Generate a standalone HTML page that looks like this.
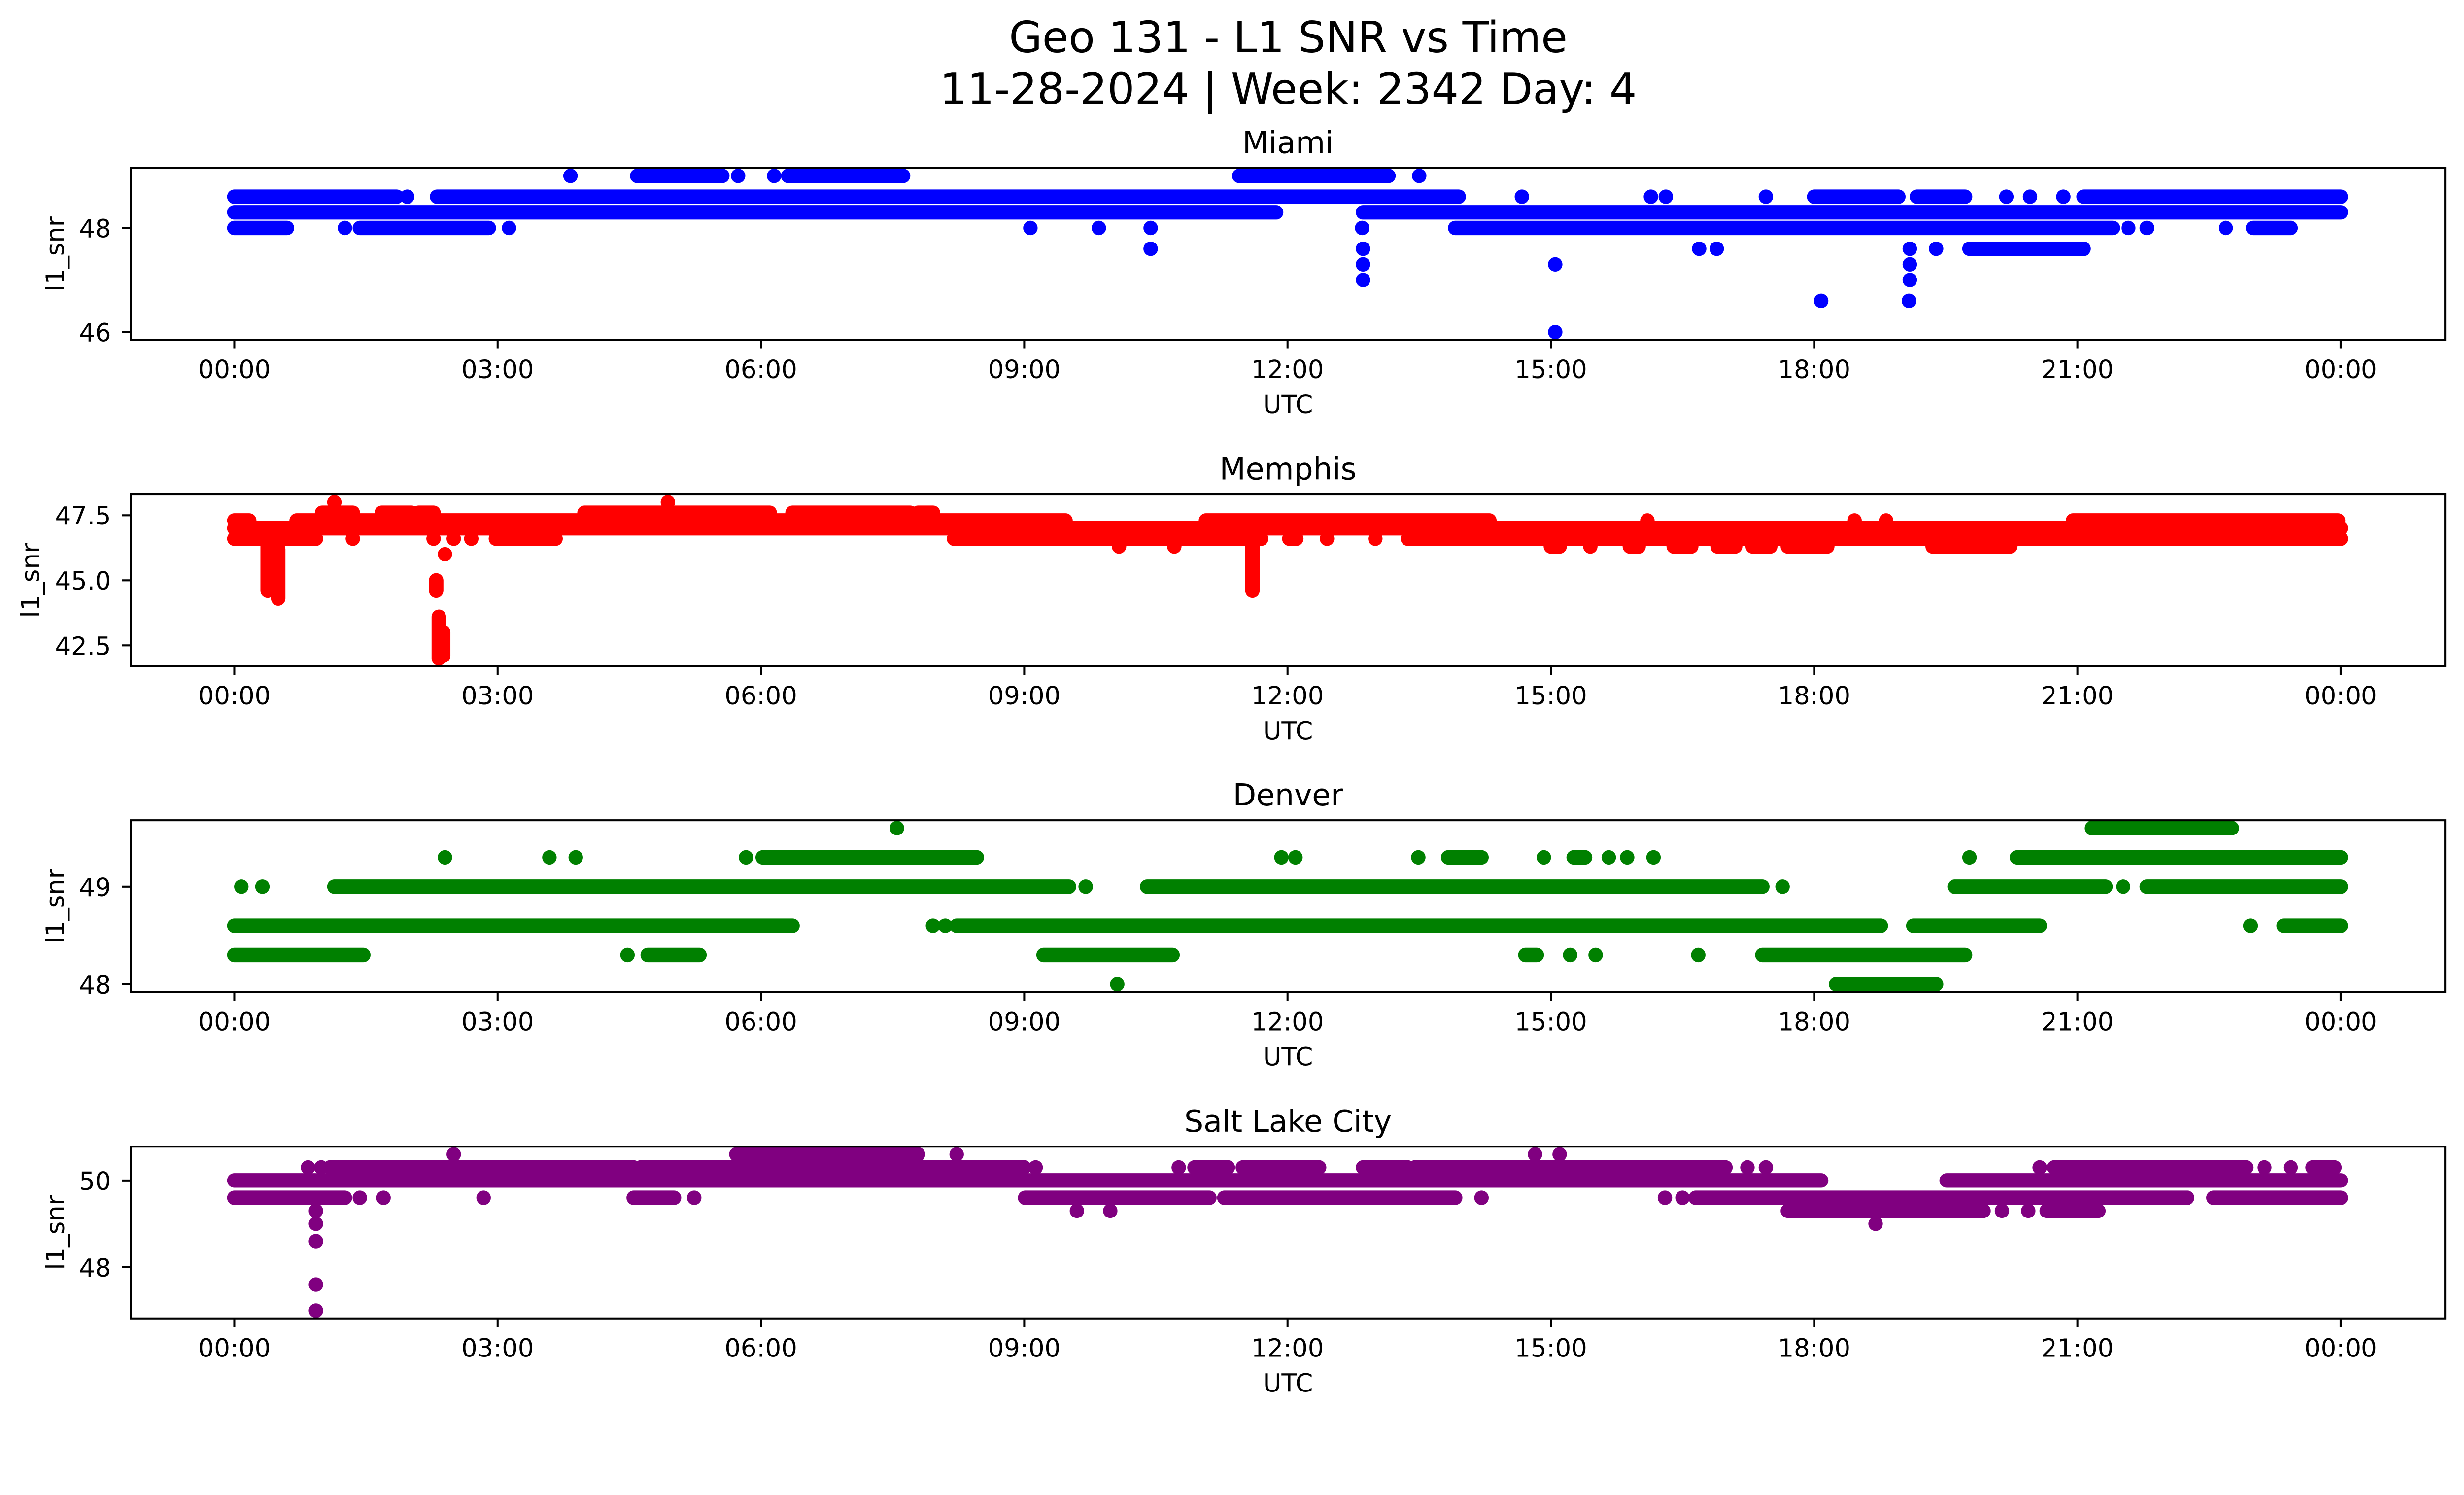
<!DOCTYPE html>
<html>
<head>
<meta charset="utf-8">
<style>
  html,body{margin:0;padding:0;background:#fff;overflow:hidden;}
  svg{display:block;width:100vw;height:auto;font-family:"DejaVu Sans","Liberation Sans",sans-serif;}
</style>
</head>
<body>
<svg id="fig" viewBox="0 0 5279 3033" preserveAspectRatio="xMidYMid meet" xmlns="http://www.w3.org/2000/svg">
  <rect x="0" y="0" width="5279" height="3033" fill="#fff"/>
  <text x="2760" y="112" font-size="92" text-anchor="middle" fill="#000">Geo 131 - L1 SNR vs Time</text>
  <text x="2760" y="223" font-size="92" text-anchor="middle" fill="#000">11-28-2024 | Week: 2342 Day: 4</text>
</svg>
<script>
// ---- data (hours UTC, l1_snr) ----
const xTickHours = [0,3,6,9,12,15,18,21,24];
const xTickLabels = ["00:00","03:00","06:00","09:00","12:00","15:00","18:00","21:00","00:00"];

const miamiTicks = [46,48];
const miamiTickLabels = ["46","48"];
const miamiRuns = [
 [49.0,3.83,3.83],[49.0,4.59,5.56],[49.0,5.74,5.74],[49.0,6.15,6.15],[49.0,6.31,7.62],[49.0,11.45,13.15],[49.0,13.5,13.5],
 [48.6,0,1.85],[48.6,1.97,1.97],[48.6,2.31,13.95],[48.6,14.67,14.67],[48.6,16.14,16.14],[48.6,16.31,16.31],[48.6,17.45,17.45],[48.6,18.0,18.96],[48.6,19.17,19.72],[48.6,20.19,20.19],[48.6,20.46,20.46],[48.6,20.84,20.84],[48.6,21.07,24],
 [48.3,0,11.87],[48.3,12.86,24],
 [48.0,0,0.6],[48.0,1.26,1.26],[48.0,1.43,2.9],[48.0,3.13,3.13],[48.0,9.07,9.07],[48.0,9.85,9.85],[48.0,10.44,10.44],[48.0,12.85,12.85],[48.0,13.91,21.4],[48.0,21.58,21.58],[48.0,21.79,21.79],[48.0,22.69,22.69],[48.0,23.0,23.43],
 [47.6,10.44,10.44],[47.6,12.86,12.86],[47.6,16.69,16.69],[47.6,16.89,16.89],[47.6,19.09,19.09],[47.6,19.39,19.39],[47.6,19.77,21.07],
 [47.3,12.86,12.86],[47.3,15.05,15.05],[47.3,19.09,19.09],
 [47.0,12.86,12.86],[47.0,19.09,19.09],
 [46.6,18.08,18.08],[46.6,19.08,19.08],
 [46.0,15.05,15.05]
];
const miamiDips = [];

const memphisTicks = [42.5,45.0,47.5];
const memphisTickLabels = ["42.5","45.0","47.5"];
const memphisRuns = [
 [48.0,1.14,1.14],[48.0,4.94,4.94],
 [47.6,1.0,1.35],[47.6,1.68,2.02],[47.6,2.1,2.27],[47.6,3.99,6.1],[47.6,6.36,7.7],[47.6,7.79,7.96],
 [47.3,0,0.17],[47.3,0.71,9.47],[47.3,11.07,14.3],[47.3,16.1,16.1],[47.3,18.46,18.46],[47.3,18.82,18.82],[47.3,20.95,23.97],
 [47.0,0,24],
 [46.6,0,0.93],[46.6,1.35,1.35],[46.6,2.27,2.27],[46.6,2.5,2.5],[46.6,2.7,2.7],[46.6,2.98,3.66],[46.6,8.2,11.7],[46.6,12.02,12.1],[46.6,12.45,12.45],[46.6,13.0,13.0],[46.6,13.37,24],
 [46.3,10.08,10.08],[46.3,10.71,10.71],[46.3,15.0,15.1],[46.3,15.45,15.45],[46.3,15.9,16.0],[46.3,16.4,16.6],[46.3,16.9,17.1],[46.3,17.3,17.5],[46.3,17.7,18.15],[46.3,19.35,20.23],
 [46.0,2.4,2.4]
];
const memphisDips = [
 [0.38,46.6,44.6],[0.5,46.2,44.3],[2.3,45.0,44.6],[2.33,43.6,42.0],[2.38,43.0,42.1],[11.6,46.6,44.6]
];

const denverTicks = [48,49];
const denverTickLabels = ["48","49"];
const denverRuns = [
 [49.6,7.55,7.55],[49.6,21.16,22.76],
 [49.3,2.4,2.4],[49.3,3.59,3.59],[49.3,3.89,3.89],[49.3,5.83,5.83],[49.3,6.02,8.46],[49.3,11.93,11.93],[49.3,12.09,12.09],[49.3,13.49,13.49],[49.3,13.83,14.21],[49.3,14.92,14.92],[49.3,15.26,15.39],[49.3,15.66,15.66],[49.3,15.87,15.87],[49.3,16.17,16.17],[49.3,19.77,19.77],[49.3,20.31,24],
 [49.0,0.08,0.08],[49.0,0.32,0.32],[49.0,1.14,9.51],[49.0,9.7,9.7],[49.0,10.4,17.41],[49.0,17.64,17.64],[49.0,19.6,21.32],[49.0,21.52,21.52],[49.0,21.79,24],
 [48.6,0,6.36],[48.6,7.96,7.96],[48.6,8.1,8.1],[48.6,8.23,18.76],[48.6,19.13,20.57],[48.6,22.97,22.97],[48.6,23.35,24],
 [48.3,0,1.47],[48.3,4.48,4.48],[48.3,4.71,5.3],[48.3,9.22,10.69],[48.3,14.71,14.84],[48.3,15.22,15.22],[48.3,15.51,15.51],[48.3,16.68,16.68],[48.3,17.41,19.72],
 [48.0,10.06,10.06],[48.0,18.25,19.39]
];
const denverDips = [];

const slcTicks = [48,50];
const slcTickLabels = ["48","50"];
const slcRuns = [
 [50.6,2.5,2.5],[50.6,5.72,6.27],[50.6,6.31,7.79],[50.6,8.23,8.23],[50.6,14.82,14.82],[50.6,15.1,15.1],
 [50.3,0.84,0.84],[50.3,0.99,0.99],[50.3,1.09,4.55],[50.3,4.63,9.0],[50.3,9.13,9.13],[50.3,10.76,10.76],[50.3,10.94,11.32],[50.3,11.49,12.36],[50.3,12.86,13.37],[50.3,13.45,16.99],[50.3,17.24,17.24],[50.3,17.45,17.45],[50.3,20.57,20.57],[50.3,20.73,22.92],[50.3,23.13,23.13],[50.3,23.43,23.43],[50.3,23.68,23.93],
 [50.0,0,18.08],[50.0,19.51,24],
 [49.6,0,1.26],[49.6,1.43,1.43],[49.6,1.7,1.7],[49.6,2.84,2.84],[49.6,4.55,5.01],[49.6,5.24,5.24],[49.6,9.01,11.11],[49.6,11.28,13.91],[49.6,14.21,14.21],[49.6,16.3,16.3],[49.6,16.5,16.5],[49.6,16.65,22.25],[49.6,22.55,24],
 [49.3,0.93,0.93],[49.3,9.6,9.6],[49.3,9.98,9.98],[49.3,17.7,19.93],[49.3,20.14,20.14],[49.3,20.44,20.44],[49.3,20.65,21.24],
 [49.0,0.93,0.93],[49.0,18.7,18.7],
 [48.6,0.93,0.93],[47.6,0.93,0.93],[47.0,0.93,0.93]
];
const slcDips = [];

// ---- layout ----
const SVGNS = "http://www.w3.org/2000/svg";
const fig = document.getElementById('fig');
const AX_L = 280, AX_R = 5239, AX_H = 368;
const X0 = 502, X24 = 5015;
const R = 15.5;
function xScale(h){ return X0 + (X24 - X0) * h / 24; }

const panels = [
 {key:'miami', title:'Miami', top:360, ymin:45.85, ymax:49.15, color:'#0000ff', ticks:miamiTicks, labels:miamiTickLabels, runs:miamiRuns, dips:miamiDips, ylx:137},
 {key:'memphis', title:'Memphis', top:1059, ymin:41.7, ymax:48.3, color:'#ff0000', ticks:memphisTicks, labels:memphisTickLabels, runs:memphisRuns, dips:memphisDips, ylx:84},
 {key:'denver', title:'Denver', top:1757, ymin:47.92, ymax:49.68, color:'#008000', ticks:denverTicks, labels:denverTickLabels, runs:denverRuns, dips:denverDips, ylx:137},
 {key:'salt-lake-city', title:'Salt Lake City', top:2456, ymin:46.82, ymax:50.78, color:'#800080', ticks:slcTicks, labels:slcTickLabels, runs:slcRuns, dips:slcDips, ylx:137}
];

function mk(tag, attrs, parent){
  const e = document.createElementNS(SVGNS, tag);
  for (const k in attrs) e.setAttribute(k, attrs[k]);
  (parent || fig).appendChild(e);
  return e;
}

panels.forEach(p => {
  const top = p.top, bot = p.top + AX_H;
  const yScale = v => bot - (v - p.ymin) / (p.ymax - p.ymin) * AX_H;
  const g = mk('g', {});
  
  

  const clip = mk('clipPath', {id: 'clip-' + p.key}, g);
  mk('rect', {x: AX_L, y: top, width: AX_R - AX_L, height: AX_H}, clip);
  const marks = mk('g', {'clip-path': 'url(#clip-' + p.key + ')', fill: p.color, stroke: p.color}, g);
  
  

  p.runs.forEach(r => {
    const y = yScale(r[0]), x1 = xScale(r[1]), x2 = xScale(r[2]);
    let el;
    if (r[1] === r[2]) {
      el = mk('circle', {cx: x1, cy: y, r: R, stroke: 'none'}, marks);
    } else {
      el = mk('line', {x1: x1, y1: y, x2: x2, y2: y, 'stroke-width': 2 * R, 'stroke-linecap': 'round'}, marks);
    }
    
    
  });
  p.dips.forEach(d => {
    const x = xScale(d[0]);
    const el = mk('line', {x1: x, y1: yScale(d[1]), x2: x, y2: yScale(d[2]), 'stroke-width': 2 * R, 'stroke-linecap': 'round'}, marks);
    
    
  });

  const frame = mk('rect', {x: AX_L, y: top, width: AX_R - AX_L, height: AX_H, fill: 'none', stroke: '#000', 'stroke-width': 4.3}, g);
  
  

  xTickHours.forEach((h, i) => {
    const x = xScale(h);
    const t = mk('line', {x1: x, y1: bot, x2: x, y2: bot + 19, stroke: '#000', 'stroke-width': 4.3}, g);
    
    
    const lb = mk('text', {x: x, y: bot + 82, 'font-size': 54, 'text-anchor': 'middle', fill: '#000'}, g);
    lb.textContent = xTickLabels[i];
    
    
  });
  p.ticks.forEach((v, i) => {
    const y = yScale(v);
    const t = mk('line', {x1: AX_L - 19, y1: y, x2: AX_L, y2: y, stroke: '#000', 'stroke-width': 4.3}, g);
    
    
    const lb = mk('text', {x: 238, y: y + 20, 'font-size': 54, 'text-anchor': 'end', fill: '#000'}, g);
    lb.textContent = p.labels[i];
    
    
  });
  const ti = mk('text', {x: (AX_L + AX_R) / 2, y: top - 32, 'font-size': 65, 'text-anchor': 'middle', fill: '#000'}, g);
  ti.textContent = p.title;
  
  
  const xl = mk('text', {x: (AX_L + AX_R) / 2, y: bot + 157, 'font-size': 54, 'text-anchor': 'middle', fill: '#000'}, g);
  xl.textContent = 'UTC';
  
  
  const cy = top + AX_H / 2;
  const yl = mk('text', {x: p.ylx, y: cy, 'font-size': 54, 'text-anchor': 'middle', fill: '#000', transform: 'rotate(-90 ' + p.ylx + ' ' + cy + ')'}, g);
  yl.textContent = 'l1_snr';
  
  
});
</script>
</body>
</html>
